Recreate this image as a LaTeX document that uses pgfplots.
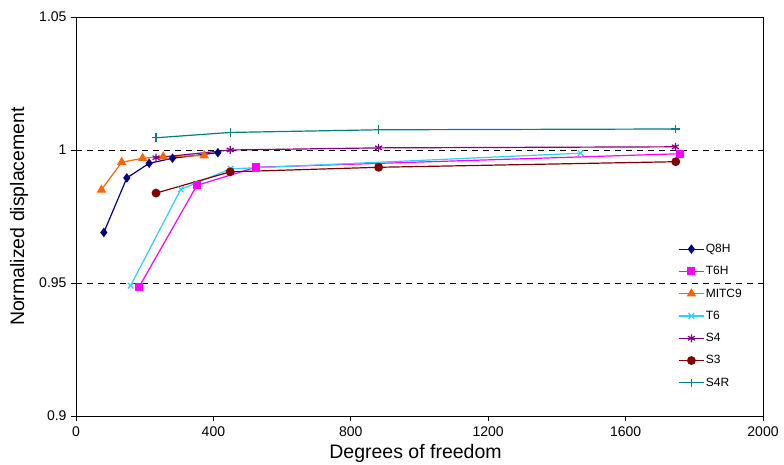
\documentclass[border=0pt]{standalone}
\usepackage{fontspec}
\setmainfont{Liberation Sans}
\usepackage{pgfplots}
\pgfplotsset{compat=1.18}
\definecolor{cQ}{RGB}{0,0,128}
\definecolor{cT6H}{RGB}{255,0,255}
\definecolor{cM}{RGB}{255,102,0}
\definecolor{cT6}{RGB}{51,204,255}
\definecolor{cS4}{RGB}{128,0,128}
\definecolor{cS3}{RGB}{128,0,0}
\definecolor{cS4R}{RGB}{0,128,128}
\begin{document}
\begin{tikzpicture}
\begin{axis}[
  scale only axis,
  width=687pt, height=399pt,
  xmin=0, xmax=2000, ymin=0.9, ymax=1.05,
  xtick={0,400,800,1200,1600,2000},
  ytick={0.9,0.95,1,1.05},
  yticklabels={0.9,0.95,1,1.05},
  xticklabels={0,400,800,1200,1600,2000},
  tick align=outside, tick pos=left,
  major tick length=5pt,
  axis line style={line width=0.9pt},
  every tick/.style={black, line width=0.8pt},
  ymajorgrids,
  major grid style={black, line width=0.8pt, dash pattern=on 6pt off 5pt},
  tick label style={font=\fontsize{14}{16}\selectfont},
  xticklabel style={yshift=-2pt},
  yticklabel style={xshift=-1pt},
  xlabel={Degrees of freedom},
  ylabel={Normalized displacement},
  label style={font=\fontsize{19.5}{22}\selectfont},
  xlabel style={at={(axis description cs:0.5,0)}, anchor=center, yshift=-37pt, xshift=-4pt},
  ylabel style={at={(axis description cs:0,0.5)}, anchor=center, yshift=57pt},
  legend style={draw=none, fill=none, at={(0.876,0.4336)}, anchor=north west,
    font=\fontsize{12}{14}\selectfont, row sep=10.4pt, inner sep=0pt,
    nodes={inner sep=1pt}},
  legend cell align=left,
  legend image code/.code={\draw[mark repeat=2,mark phase=2] plot coordinates {(0cm,0cm) (0.45cm,0cm) (0.9cm,0cm)};},
  every axis plot/.append style={line width=1.2pt},
]
\addplot[cQ, mark=diamond*, mark size=3.8pt, mark options={solid}] coordinates {
(81,0.969) (148,0.9895) (213,0.9950) (281,0.9969) (413,0.9990)};
\addlegendentry{Q8H}
\addplot[cT6H, mark=square*, mark size=3.4pt] coordinates {
(184,0.9486) (352,0.9867) (523,0.9935) (1759,0.9986)};
\addlegendentry{T6H}
\addplot[cM, mark=triangle*, mark size=4.3pt] coordinates {
(74,0.9850) (133,0.9954) (194,0.9969) (254,0.9975) (373,0.9979)};
\addlegendentry{MITC9}
\addplot[cT6, mark=x, mark size=4pt] coordinates {
(159,0.9490) (305,0.9852) (450,0.9929) (1469,0.9988)};
\addlegendentry{T6}
\addplot[cS4, mark=asterisk, mark size=4pt] coordinates {
(233,0.9971) (449,1.0000) (881,1.0008) (1745,1.0012)};
\addlegendentry{S4}
\addplot[cS3, mark=*, mark size=3.8pt] coordinates {
(233,0.9838) (449,0.9918) (881,0.9935) (1746,0.9956)};
\addlegendentry{S3}
\addplot[cS4R, mark=+, mark size=4.3pt] coordinates {
(233,1.0046) (449,1.0066) (881,1.0076) (1746,1.0079)};
\addlegendentry{S4R}
\end{axis}
\pgfresetboundingbox
\path[use as bounding box] (-76pt,-48pt) rectangle (708pt,416pt);
\end{tikzpicture}
\end{document}
